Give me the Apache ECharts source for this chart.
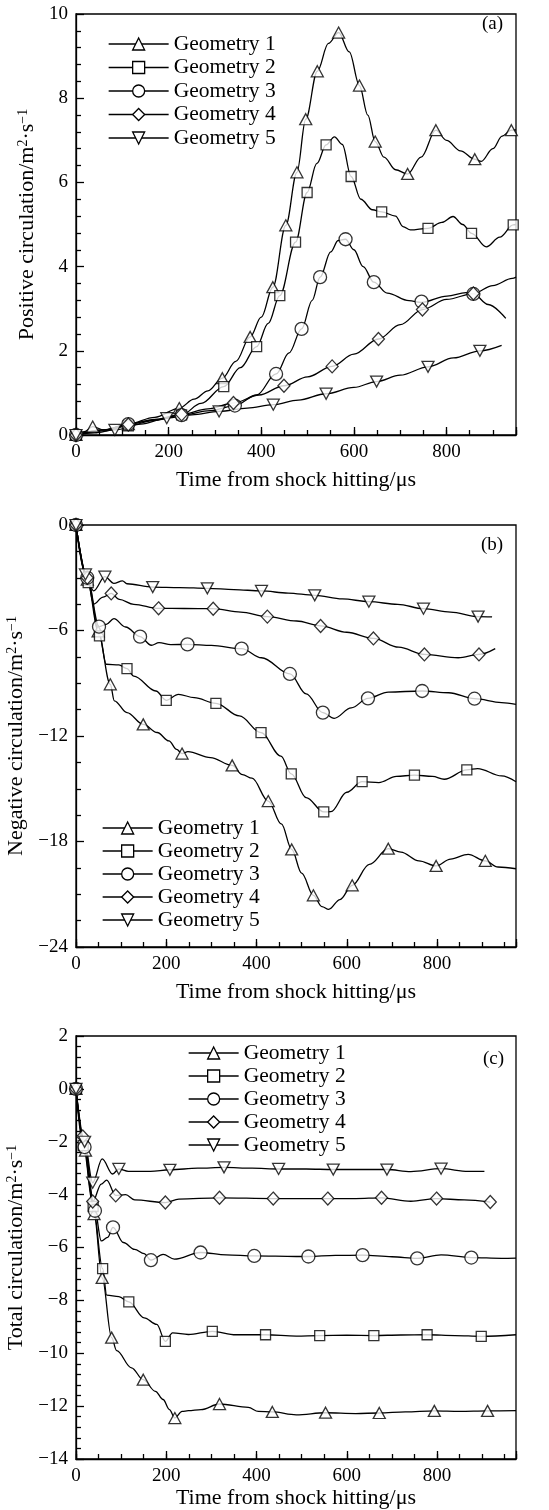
<!DOCTYPE html>
<html><head><meta charset="utf-8">
<script src="https://cdn.jsdelivr.net/npm/echarts@6/dist/echarts.min.js"></script>
<style>html,body{margin:0;padding:0;background:#fff}#c{width:549px;height:1510px}</style>
</head><body><div id="c"></div>
<script>
// ---------- data (time in µs, circulation in m^2/s) ----------
const names = ['Geometry 1','Geometry 2','Geometry 3','Geometry 4','Geometry 5'];
const panelTags = ['(a)','(b)','(c)'];
const xTitle = 'Time from shock hitting/μs';
const yTitles = ['Positive circulation/m{s|2}·s{s|−1}','Negative circulation/m{s|2}·s{s|−1}','Total circulation/m{s|2}·s{s|−1}'];

// panel (a) positive circulation
const g1a = [[0,0],[18,0.08],[36,0.2],[60,0.12],[113,0.26],[170,0.42],[223,0.64],[255,0.85],[285,1.05],[316,1.35],[345,1.75],[376,2.33],[400,2.8],[425,3.51],[453,4.98],[477,6.24],[496,7.5],[521,8.64],[545,9.3],[567,9.56],[590,9.1],[612,8.3],[630,7.6],[646,6.97],[665,6.6],[690,6.3],[716,6.2],[745,6.6],[777,7.24],[800,7.0],[830,6.75],[861,6.55],[875,6.5],[900,6.8],[920,7.1],[940,7.24],[950,7.25]];
const g1aM = [[0,0],[36,0.2],[113,0.26],[223,0.64],[316,1.35],[376,2.33],[425,3.51],[453,4.98],[477,6.24],[496,7.5],[521,8.64],[567,9.56],[612,8.3],[646,6.97],[716,6.2],[777,7.24],[861,6.55],[940,7.24]];
const g2a = [[0,0],[60,0.1],[113,0.22],[170,0.35],[228,0.48],[270,0.75],[319,1.15],[355,1.6],[390,2.1],[415,2.65],[440,3.31],[474,4.58],[499,5.76],[520,6.45],[540,6.89],[558,7.08],[575,6.9],[594,6.14],[615,5.6],[640,5.35],[660,5.3],[690,5.2],[706,4.95],[722,4.87],[760,4.91],[790,5.05],[814,5.19],[835,5.0],[854,4.79],[886,4.47],[915,4.7],[944,4.99],[950,5.0]];
const g2aM = [[0,0],[113,0.22],[228,0.48],[319,1.15],[390,2.1],[440,3.31],[474,4.58],[499,5.76],[540,6.89],[594,6.14],[660,5.3],[760,4.91],[854,4.79],[944,4.99]];
const g3a = [[0,0],[60,0.12],[113,0.26],[170,0.36],[228,0.47],[290,0.58],[343,0.7],[390,0.95],[432,1.45],[460,1.95],[487,2.52],[510,3.2],[527,3.75],[550,4.35],[566,4.62],[582,4.65],[600,4.4],[620,4.0],[643,3.63],[672,3.37],[719,3.19],[746,3.15],[801,3.3],[842,3.38],[858,3.35],[890,3.1],[928,2.77]];
const g3aM = [[0,0],[113,0.26],[228,0.47],[343,0.7],[432,1.45],[487,2.52],[527,3.75],[582,4.65],[643,3.63],[746,3.17],[858,3.35]];
const g4a = [[0,0],[60,0.12],[113,0.25],[170,0.37],[228,0.49],[285,0.62],[340,0.76],[395,0.95],[449,1.17],[500,1.38],[553,1.63],[600,1.92],[653,2.28],[700,2.62],[748,2.98],[800,3.22],[858,3.36],[900,3.55],[942,3.72],[950,3.75]];
const g4aM = [[0,0],[113,0.25],[228,0.49],[340,0.76],[449,1.17],[553,1.63],[653,2.28],[748,2.98],[858,3.36]];
const g5a = [[0,0],[40,0.05],[84,0.12],[140,0.26],[196,0.4],[250,0.48],[309,0.56],[370,0.64],[426,0.72],[480,0.83],[540,0.98],[600,1.13],[649,1.27],[700,1.42],[760,1.62],[815,1.83],[872,2.0],[919,2.13]];
const g5aM = [[0,0],[84,0.12],[196,0.4],[309,0.56],[426,0.72],[540,0.98],[649,1.27],[760,1.62],[872,2.0]];

// panel (b) negative circulation
const g1b = [[0,0],[25,-3.1],[49,-6.05],[76,-9.06],[85,-10.0],[113,-10.67],[149,-11.34],[180,-11.8],[206,-12.28],[223,-12.76],[235,-13.0],[248,-12.89],[298,-13.23],[346,-13.67],[369,-14.2],[390,-14.4],[426,-15.7],[455,-17.0],[478,-18.45],[500,-19.8],[526,-21.06],[545,-21.7],[560,-21.86],[585,-21.3],[612,-20.49],[650,-19.3],[692,-18.41],[720,-18.6],[760,-19.1],[798,-19.39],[830,-19.0],[869,-18.73],[907,-19.1],[935,-19.45],[975,-19.55]];
const g1bM = [[0,0],[25,-3.1],[49,-6.05],[76,-9.06],[149,-11.34],[235,-13.0],[346,-13.67],[426,-15.7],[478,-18.45],[526,-21.06],[612,-20.49],[692,-18.41],[798,-19.39],[907,-19.1]];
const g2b = [[0,0],[27,-3.28],[52,-6.31],[67,-7.92],[95,-7.95],[113,-8.17],[128,-8.59],[177,-9.44],[200,-9.97],[227,-9.63],[262,-9.82],[310,-10.14],[362,-10.86],[410,-11.81],[454,-13.14],[477,-14.15],[510,-15.5],[549,-16.32],[565,-16.3],[600,-15.2],[634,-14.6],[671,-14.65],[710,-14.3],[750,-14.22],[790,-14.3],[816,-14.46],[866,-13.93],[890,-13.85],[943,-14.27],[975,-14.6]];
const g2bM = [[0,0],[27,-3.28],[52,-6.31],[113,-8.17],[200,-9.97],[310,-10.14],[410,-11.81],[477,-14.15],[549,-16.32],[634,-14.6],[750,-14.22],[866,-13.93]];
const g3b = [[0,0],[25,-3.0],[51,-5.78],[67,-5.65],[84,-5.33],[110,-5.8],[142,-6.35],[167,-6.84],[184,-6.69],[210,-6.8],[247,-6.79],[300,-6.85],[367,-7.03],[411,-7.55],[474,-8.47],[510,-9.6],[547,-10.67],[572,-11.0],[610,-10.4],[647,-9.86],[692,-9.5],[767,-9.44],[826,-9.54],[883,-9.88],[943,-10.1],[975,-10.2]];
const g3bM = [[0,0],[25,-3.0],[51,-5.78],[142,-6.35],[247,-6.79],[367,-7.03],[474,-8.47],[547,-10.67],[647,-9.86],[767,-9.44],[883,-9.88]];
const g4b = [[0,0],[25,-3.0],[39,-4.5],[60,-4.1],[78,-3.89],[96,-4.23],[128,-4.51],[183,-4.74],[240,-4.75],[304,-4.76],[365,-4.95],[424,-5.21],[489,-5.46],[542,-5.74],[600,-6.1],[659,-6.45],[715,-6.95],[772,-7.36],[847,-7.55],[893,-7.36],[929,-7.03]];
const g4bM = [[0,0],[25,-3.0],[78,-3.89],[183,-4.74],[304,-4.76],[424,-5.21],[542,-5.74],[659,-6.45],[772,-7.36],[893,-7.36]];
const g5b = [[0,0],[21,-2.81],[39,-3.75],[64,-2.94],[84,-3.32],[103,-3.18],[113,-3.34],[170,-3.53],[230,-3.56],[291,-3.6],[350,-3.67],[411,-3.75],[470,-3.87],[529,-4.0],[590,-4.2],[649,-4.36],[713,-4.51],[770,-4.76],[830,-4.95],[891,-5.21],[922,-5.23]];
const g5bM = [[0,0],[21,-2.81],[64,-2.94],[170,-3.53],[291,-3.6],[411,-3.75],[529,-4.0],[649,-4.36],[770,-4.76],[891,-5.21]];

// panel (c) total circulation
const g1c = [[0,0],[21,-2.34],[40,-4.74],[58,-7.15],[79,-9.41],[90,-9.9],[123,-10.55],[149,-11.0],[176,-11.44],[193,-11.75],[207,-12.13],[219,-12.45],[235,-12.2],[249,-12.17],[277,-12.13],[318,-11.92],[382,-12.05],[404,-12.2],[435,-12.22],[488,-12.33],[553,-12.25],[620,-12.28],[672,-12.26],[730,-12.22],[794,-12.18],[850,-12.2],[912,-12.18],[975,-12.17]];
const g1cM = [[0,0],[21,-2.34],[40,-4.74],[58,-7.15],[79,-9.41],[149,-11.0],[219,-12.45],[318,-11.92],[435,-12.22],[553,-12.25],[672,-12.26],[794,-12.18],[912,-12.18]];
const g2c = [[0,0],[16,-2.15],[38,-4.45],[59,-6.8],[68,-7.8],[95,-7.86],[117,-8.06],[151,-8.66],[179,-8.91],[198,-9.55],[214,-9.23],[249,-9.29],[302,-9.17],[354,-9.3],[420,-9.3],[488,-9.35],[540,-9.33],[600,-9.32],[660,-9.33],[720,-9.31],[778,-9.3],[840,-9.33],[898,-9.36],[975,-9.3]];
const g2cM = [[0,0],[16,-2.15],[38,-4.45],[59,-6.8],[117,-8.06],[198,-9.55],[302,-9.17],[420,-9.3],[540,-9.33],[660,-9.33],[778,-9.3],[898,-9.36]];
const g3c = [[0,0],[19,-2.2],[42,-4.61],[56,-5.75],[70,-5.62],[82,-5.24],[105,-5.81],[130,-6.07],[151,-6.23],[166,-6.48],[193,-6.26],[218,-6.44],[276,-6.19],[333,-6.28],[395,-6.32],[488,-6.34],[515,-6.34],[575,-6.3],[635,-6.29],[700,-6.35],[756,-6.41],[809,-6.28],[876,-6.38],[943,-6.41],[975,-6.4]];
const g3cM = [[0,0],[19,-2.2],[42,-4.61],[82,-5.24],[166,-6.48],[276,-6.19],[395,-6.32],[515,-6.34],[635,-6.29],[756,-6.41],[876,-6.38]];
const g4c = [[0,0],[15,-1.8],[37,-4.26],[56,-3.6],[68,-3.45],[88,-4.03],[110,-4.0],[130,-4.2],[198,-4.3],[228,-4.17],[318,-4.12],[437,-4.15],[500,-4.15],[558,-4.15],[620,-4.15],[677,-4.12],[742,-4.25],[799,-4.15],[860,-4.2],[918,-4.28]];
const g4cM = [[0,0],[15,-1.8],[37,-4.26],[88,-4.03],[198,-4.3],[318,-4.12],[437,-4.15],[558,-4.15],[677,-4.12],[799,-4.15],[918,-4.28]];
const g5c = [[0,0],[19,-2.0],[37,-3.55],[58,-2.65],[81,-3.22],[95,-3.03],[116,-3.12],[165,-3.12],[208,-3.06],[270,-3.0],[328,-2.97],[390,-3.0],[449,-3.03],[510,-3.03],[570,-3.05],[630,-3.05],[689,-3.05],[742,-3.13],[809,-3.02],[869,-3.12],[905,-3.12]];
const g5cM = [[0,0],[19,-2.0],[37,-3.55],[95,-3.03],[208,-3.06],[328,-2.97],[449,-3.03],[570,-3.05],[689,-3.05],[809,-3.02]];

// axis ranges
const xMax = [950, 975, 975];
const yMin = [0, -24, -14];
const yMax = [10, 0, 2];
const yStep = [2, 6, 2];
const yMinorSplit = [5, 4, 5];

const curves = [[g1a,g2a,g3a,g4a,g5a],[g1b,g2b,g3b,g4b,g5b],[g1c,g2c,g3c,g4c,g5c]];
const marks = [[g1aM,g2aM,g3aM,g4aM,g5aM],[g1bM,g2bM,g3bM,g4bM,g5bM],[g1cM,g2cM,g3cM,g4cM,g5cM]];

// ---------- layout & style ----------
const FONT = 'Liberation Serif';
const grids = [
  {left: 76, top: 14, width: 440, height: 421},
  {left: 76, top: 525, width: 440, height: 422},
  {left: 76, top: 1036, width: 440, height: 423}
];
const yNameGap = [37, 48, 45];
const xNameGap = [34, 34, 28];
const symbols = ['triangle','rect','circle','diamond','triangle'];
const symRot = [0,0,0,0,180];
const symSize = [[12,11],[10,10],[13,13],[12,13],[12,11]];
const legendPos = [
  {left: 108, top: 33, itemWidth: 60, itemGap: 1.5},
  {left: 102, top: 817, itemWidth: 50, itemGap: 1},
  {left: 188, top: 1042, itemWidth: 50, itemGap: 1}
];
const tagPos = [{left: 482, top: 15},{left: 481, top: 536},{left: 483, top: 1050}];
const AX = {color: '#000', width: 1.3};

const fmtY = v => String(v).replace('-', '−');
const xAxes = [], yAxes = [], series = [];
for (let p = 0; p < 3; p++) {
  xAxes.push({
    type: 'value', gridIndex: p, position: 'bottom', min: 0, max: xMax[p], interval: 200,
    axisLine: {show: true, onZero: false, lineStyle: AX},
    axisTick: {show: true, inside: true, length: 8, lineStyle: AX},
    axisLabel: {color: '#000', fontFamily: FONT, fontSize: 19, margin: 8,
      formatter: v => (v % 200 === 0 ? String(v) : '')},
    splitLine: {show: false},
    name: xTitle, nameLocation: 'middle', nameGap: xNameGap[p],
    nameTextStyle: {color: '#000', fontFamily: FONT, fontSize: 22}
  });
  xAxes.push({
    type: 'value', gridIndex: p, position: 'bottom', min: 0, max: xMax[p], interval: 50,
    axisLine: {show: false, onZero: false},
    axisTick: {show: true, inside: true, length: 5, lineStyle: AX},
    axisLabel: {show: false}, splitLine: {show: false}
  });
  yAxes.push({
    type: 'value', gridIndex: p, position: 'left', min: yMin[p], max: yMax[p], interval: yStep[p],
    axisLine: {show: true, onZero: false, lineStyle: AX},
    axisTick: {show: true, inside: true, length: 8, lineStyle: AX},
    minorTick: {show: true, splitNumber: yMinorSplit[p], length: 5, lineStyle: AX},
    axisLabel: {color: '#000', fontFamily: FONT, fontSize: 19, margin: 8, formatter: fmtY},
    splitLine: {show: false}, minorSplitLine: {show: false},
    name: yTitles[p], nameLocation: 'middle', nameGap: yNameGap[p],
    nameTextStyle: {color: '#000', fontFamily: FONT, fontSize: 22,
      rich: {s: {fontFamily: FONT, fontSize: 14, verticalAlign: 'top', color: '#000'}}}
  });
  for (let g = 0; g < 5; g++) {
    series.push({
      name: names[g], type: 'line', xAxisIndex: 2 * p, yAxisIndex: p,
      data: curves[p][g], smooth: 0.35, smoothMonotone: 'x',
      showSymbol: false, symbol: symbols[g], symbolRotate: symRot[g], symbolSize: symSize[g],
      lineStyle: {color: '#000', width: 1.3},
      itemStyle: {color: '#fff', borderColor: '#000', borderWidth: 1},
      z: 2, silent: true, animation: false
    });
    series.push({
      name: names[g], type: 'scatter', xAxisIndex: 2 * p, yAxisIndex: p,
      data: marks[p][g], symbol: symbols[g], symbolRotate: symRot[g], symbolSize: symSize[g],
      itemStyle: {color: '#fff', borderColor: '#000', borderWidth: 1.3},
      z: 3, silent: true, animation: false
    });
  }
}

const legends = legendPos.map(lp => ({
  data: names, orient: 'vertical', left: lp.left, top: lp.top, padding: 0,
  itemWidth: lp.itemWidth, itemHeight: 15, itemGap: lp.itemGap, selectedMode: false,
  textStyle: {color: '#000', fontFamily: FONT, fontSize: 21.5},
  itemStyle: {color: '#fff', borderColor: '#000', borderWidth: 1.3},
  lineStyle: {color: '#000', width: 1.3}
}));

const titles = panelTags.map((t, i) => ({
  text: t, left: tagPos[i].left, top: tagPos[i].top, padding: 0,
  textStyle: {color: '#000', fontFamily: FONT, fontSize: 19, fontWeight: 'normal'}
}));

const chart = echarts.init(document.getElementById('c'), null, {renderer: 'canvas'});
chart.setOption({
  animation: false,
  backgroundColor: '#fff',
  title: titles,
  legend: legends,
  grid: grids.map(g => Object.assign({show: true, borderColor: '#000', borderWidth: 1.3,
    backgroundColor: 'transparent', outerBoundsMode: 'none', containLabel: false}, g)),
  xAxis: xAxes,
  yAxis: yAxes,
  series: series
});
</script>
</body></html>
